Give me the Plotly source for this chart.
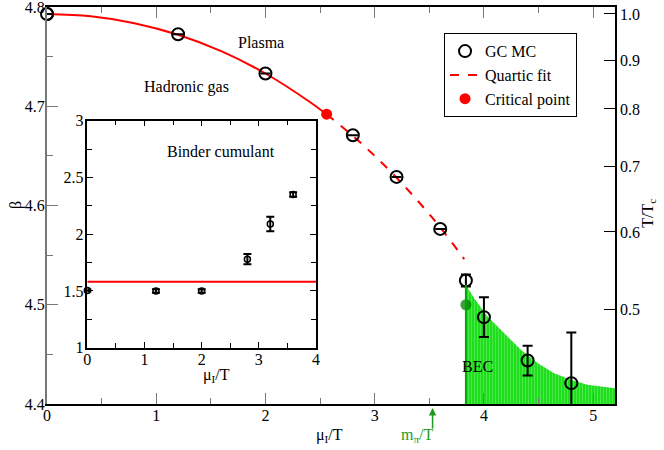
import plotly.graph_objects as go

# GC MC data: mu_I/T vs beta
gc_mu = [0, 1.2, 2.0, 2.8, 3.2, 3.6, 3.835, 4.0, 4.4, 4.8]
gc_beta = [4.793, 4.7725, 4.7330, 4.6708, 4.6288, 4.5764, 4.5244, 4.4875, 4.4438, 4.4210]
gc_err = [0, 0, 0, 0, 0, 0, 0.006, 0.020, 0.015, 0.051]

# quartic fit (solid part, dashed part)
fit_mu_solid = [0, 0.4, 0.8, 1.2, 1.6, 2.0, 2.4, 2.56]
fit_beta_solid = [4.7929, 4.7906, 4.7837, 4.7720, 4.7552, 4.7330, 4.7048, 4.6918]
fit_mu_dash = [2.56, 2.8, 3.0, 3.2, 3.4, 3.6, 3.82]
fit_beta_dash = [4.6918, 4.6701, 4.6500, 4.6280, 4.6040, 4.5779, 4.5460]

crit_mu = [2.56]
crit_beta = [4.692]

# BEC region boundary
bec_mu = [3.835, 3.911, 4.033, 4.186, 4.338, 4.490, 4.643, 4.796, 4.948, 5.2]
bec_beta = [4.520, 4.5066, 4.4881, 4.4714, 4.4546, 4.4412, 4.4311, 4.4244, 4.4193, 4.4158]
bec_pt_mu = [3.835]
bec_pt_beta = [4.500]

mpi_over_T = 3.53

# Binder cumulant inset
binder_mu = [0, 1.2, 2.0, 2.8, 3.2, 3.6]
binder = [1.505, 1.50, 1.50, 1.78, 2.09, 2.35]
binder_err = [0.01, 0.015, 0.015, 0.045, 0.063, 0.02]
ising_binder = 1.58

# right axis T/Tc
tc_labels = ["1.0", "0.9", "0.8", "0.7", "0.6", "0.5"]
tc_beta = [4.7930, 4.7466, 4.6973, 4.6389, 4.5734, 4.4949]

beta_range = [4.4, 4.8]
mu_range = [0, 5.2]

FONT = "Liberation Serif, Times New Roman, Times, serif"
GRAY = "#777777"
GREEN = "#1e9a1e"

fig = go.Figure()

fig.add_trace(go.Scatter(
    x=bec_mu, y=bec_beta, mode="lines", fill="tozeroy",
    line=dict(width=0, color="rgb(40,225,40)"),
    fillcolor="rgb(40,225,40)",
    fillpattern=dict(shape="|", size=3, solidity=0.25,
                     fgcolor="rgba(200,255,200,0.7)", bgcolor="rgb(30,222,30)"),
    showlegend=False, hoverinfo="skip"))
fig.add_shape(type="line", x0=bec_mu[0], x1=bec_mu[0], y0=beta_range[0], y1=bec_beta[0],
              xref="x", yref="y", line=dict(color="rgb(0,170,0)", width=2))

fig.add_trace(go.Scatter(
    x=fit_mu_solid, y=fit_beta_solid, mode="lines", line=dict(color="red", width=2, shape="spline"),
    showlegend=False))
fig.add_trace(go.Scatter(
    x=fit_mu_dash, y=fit_beta_dash, mode="lines", name="Quartic fit", legendrank=2,
    line=dict(color="red", width=2, dash="dash", shape="spline")))

fig.add_trace(go.Scatter(
    x=bec_pt_mu, y=bec_pt_beta, mode="markers", showlegend=False,
    marker=dict(size=11, color="rgba(0,125,0,0.75)")))

fig.add_trace(go.Scatter(
    x=crit_mu, y=crit_beta, mode="markers", name="Critical point", legendrank=3,
    marker=dict(size=11, color="red")))

fig.add_trace(go.Scatter(
    x=gc_mu, y=gc_beta, mode="markers", name="GC MC", legendrank=1,
    marker=dict(symbol="circle-open", size=12, color="black", line=dict(width=2)),
    error_y=dict(type="data", array=gc_err, color="black", thickness=2, width=5)))
fig.add_trace(go.Scatter(
    x=gc_mu[:1], y=gc_beta[:1], mode="markers", showlegend=False, cliponaxis=False,
    marker=dict(symbol="circle-open", size=12, color="black", line=dict(width=2))))

# invisible trace to carry the right axis
fig.add_trace(go.Scatter(x=[None], y=[None], yaxis="y2", showlegend=False, hoverinfo="skip"))

# inset
fig.add_trace(go.Scatter(
    x=[0, 4], y=[ising_binder, ising_binder], xaxis="x2", yaxis="y3", mode="lines",
    line=dict(color="red", width=2), showlegend=False))
fig.add_trace(go.Scatter(
    x=binder_mu, y=binder, xaxis="x2", yaxis="y3", mode="markers", showlegend=False,
    cliponaxis=False,
    marker=dict(symbol="circle-open", size=6, color="black", line=dict(width=1.5)),
    error_y=dict(type="data", array=binder_err, color="black", thickness=2, width=4)))

ax_common = dict(showgrid=False, zeroline=False, showline=True, ticks="inside", automargin=False,
                 ticklabeloverflow="allow",
                 tickfont=dict(family=FONT, size=16, color="black"))

fig.update_layout(
    width=664, height=450,
    margin=dict(l=47, r=49, t=7, b=46),
    paper_bgcolor="white", plot_bgcolor="white",
    font=dict(family=FONT, size=16, color="black"),
    xaxis=dict(range=mu_range, dtick=1, ticklen=11, tickcolor=GRAY, linecolor="black",
               linewidth=1.5, mirror="ticks", ticklabelstandoff=-4,
               minor=dict(dtick=0.5, ticklen=6, ticks="inside", tickcolor=GRAY), **ax_common),
    yaxis=dict(range=beta_range, dtick=0.1, tickformat=".1f", ticklen=11, tickcolor=GRAY,
               linecolor=GRAY, linewidth=2, ticklabelstandoff=-3,
               minor=dict(dtick=0.05, ticklen=6, ticks="inside", tickcolor=GRAY), **ax_common),
    yaxis2=dict(range=beta_range, overlaying="y", side="right", anchor="x",
                tickvals=tc_beta, ticktext=tc_labels, ticklen=11, tickcolor="black",
                linecolor="black", linewidth=1.5, **ax_common),
    xaxis2=dict(domain=[0.071, 0.4736], anchor="y3", range=[0, 4], dtick=1, ticklen=6,
                tickcolor="black", linecolor="black", linewidth=1.5, mirror="ticks",
                ticklabelstandoff=-4,
                minor=dict(dtick=0.5, ticklen=5, ticks="inside", tickcolor="black"), **ax_common),
    yaxis3=dict(domain=[0.1418, 0.7136], anchor="x2", range=[1, 3], dtick=0.5, ticklen=6,
                tickcolor="black", linecolor="black", linewidth=1.5, mirror="ticks",
                ticklabelstandoff=-1,
                minor=dict(dtick=0.25, ticklen=5, ticks="inside", tickcolor="black"), **ax_common),
    legend=dict(x=0.699, y=0.934, xanchor="left", yanchor="top", bgcolor="white",
                bordercolor="black", borderwidth=1, font=dict(family=FONT, size=16),
                tracegroupgap=0),
    showlegend=True,
)


def ann(text, x, y, size=16, color="black", **kw):
    fig.add_annotation(text=text, x=x, y=y, xref="paper", yref="paper", showarrow=False,
                       font=dict(family=FONT, size=size, color=color), **kw)


ann("Plasma", 0.3768, 0.937)
ann("Hadronic gas", 0.168, 0.826)
ann("BEC", 0.789, 0.0673)
ann("Binder cumulant", 0.2069, 0.6355)
ann("μ<sub>I</sub>/T", 0.2708, 0.042)
ann("μ<sub>I</sub>/T", 0.498, -0.108)
ann("β", -0.074, 0.501, textangle=-90)
ann("T/T<sub>c</sub>", 1.078, 0.481, textangle=-90)
ann("m<sub>π</sub>/T", 0.685, -0.108, color=GREEN)
fig.add_annotation(text="", x=mpi_over_T, y=-0.01, xref="x", yref="paper", ax=0, ay=22,
                   showarrow=True, arrowhead=2, arrowsize=1, arrowwidth=1.5, arrowcolor=GREEN)

fig.write_html("out.html", config={"displayModeBar": False},
               post_script="document.body.style.margin='0';")
